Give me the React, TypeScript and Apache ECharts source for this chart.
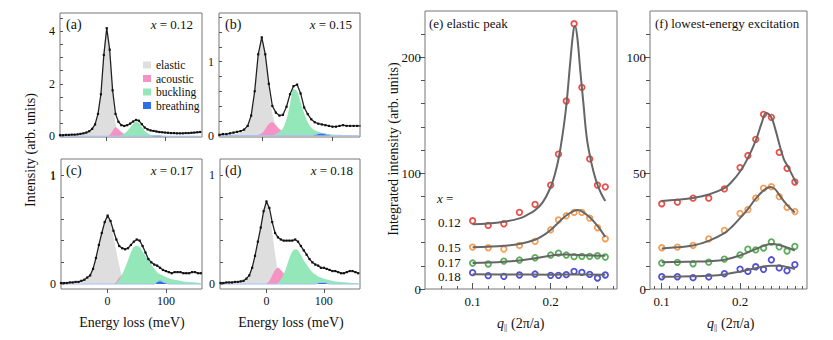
import React, { useEffect, useRef } from "react";
import * as echarts from "echarts";

const FONT = "Liberation Serif";

// ---------- spectra (panels a-d) ----------
const E1 = [-80, -75, -70, -65, -60, -55, -50, -45, -40, -35, -30, -25, -20, -15, -10, -5, 0, 5, 10, 15, 20, 25, 30, 35, 40, 45, 50, 55, 60, 65, 70, 75, 80, 85, 90, 95, 100, 105, 110, 115, 120, 125, 130, 135, 140, 145, 150, 155, 160];
const E2 = [-60, -55, -50, -45, -40, -35, -30, -25, -20, -15, -10, -5, 0, 5, 10, 15, 20, 25, 30, 35, 40, 45, 50, 55, 60, 65, 70, 75, 80, 85, 90, 95, 100, 105, 110, 115, 120, 125, 130, 135, 140];

// (a) x = 0.12
const totalA = [0.04, 0.04, 0.05, 0.05, 0.06, 0.06, 0.07, 0.09, 0.11, 0.14, 0.19, 0.28, 0.45, 0.85, 1.6, 3.1, 4.12, 3.3, 1.75, 0.85, 0.55, 0.42, 0.39, 0.42, 0.48, 0.56, 0.62, 0.59, 0.46, 0.33, 0.26, 0.22, 0.2, 0.18, 0.16, 0.15, 0.14, 0.13, 0.12, 0.12, 0.11, 0.11, 0.11, 0.12, 0.12, 0.13, 0.14, 0.15, 0.16];
const elasticA_E = [-80, -70, -60, -50, -45, -40, -35, -30, -25, -20, -15, -10, -5, 0, 5, 10, 15, 20, 25, 30, 35, 40, 160];
const elasticA = [0.01, 0.015, 0.02, 0.035, 0.05, 0.07, 0.1, 0.15, 0.24, 0.42, 0.82, 1.57, 3.08, 4.1, 3.25, 1.55, 0.5, 0.18, 0.07, 0.03, 0.01, 0, 0];
const acousticA_E = [-5, 0, 5, 10, 15, 20, 25, 30, 35, 40, 45];
const acousticA = [0, 0.005, 0.05, 0.2, 0.34, 0.27, 0.16, 0.08, 0.03, 0.01, 0];
const bucklingA_E = [15, 20, 25, 30, 35, 40, 45, 50, 55, 60, 65, 70, 75, 80, 85, 90, 95, 100, 110];
const bucklingA = [0, 0.01, 0.04, 0.1, 0.2, 0.33, 0.47, 0.55, 0.5, 0.35, 0.2, 0.11, 0.06, 0.035, 0.02, 0.012, 0.008, 0.005, 0];
const breathingA_E = [-80, 75, 80, 85, 90, 95, 100, 105, 163];
const breathingA = [0, 0, 0.015, 0.03, 0.025, 0.01, 0.003, 0, 0];

// (b) x = 0.15
const totalB = [0.01, 0.02, 0.02, 0.03, 0.04, 0.05, 0.06, 0.08, 0.13, 0.27, 0.6, 1.1, 1.33, 1.1, 0.7, 0.4, 0.31, 0.27, 0.28, 0.39, 0.56, 0.67, 0.69, 0.57, 0.38, 0.29, 0.22, 0.18, 0.16, 0.15, 0.14, 0.13, 0.12, 0.12, 0.13, 0.14, 0.13, 0.13, 0.13, 0.13, 0.13];
const elasticB_E = [-60, -50, -40, -35, -30, -25, -20, -15, -10, -5, 0, 5, 10, 15, 20, 25, 30, 35, 40, 140];
const elasticB = [0.005, 0.01, 0.02, 0.03, 0.04, 0.06, 0.11, 0.25, 0.58, 1.08, 1.32, 1.07, 0.63, 0.3, 0.13, 0.05, 0.02, 0.005, 0, 0];
const acousticB_E = [-10, -5, 0, 5, 10, 15, 20, 25, 30, 35, 40, 50, 60, 70];
const acousticB = [0, 0.01, 0.03, 0.09, 0.16, 0.18, 0.14, 0.09, 0.06, 0.04, 0.03, 0.015, 0.008, 0];
const bucklingB_E = [15, 20, 25, 30, 35, 40, 45, 50, 55, 60, 65, 70, 75, 80, 85, 90, 100, 110, 120];
const bucklingB = [0, 0.02, 0.05, 0.1, 0.22, 0.42, 0.63, 0.6, 0.45, 0.3, 0.18, 0.11, 0.07, 0.05, 0.035, 0.025, 0.015, 0.01, 0];
const breathingB_E = [-61, 70, 75, 80, 85, 90, 95, 100, 140];
const breathingB = [0, 0, 0.01, 0.025, 0.03, 0.02, 0.01, 0, 0];

// (c) x = 0.17
const totalC = [0.01, 0.01, 0.01, 0.015, 0.015, 0.02, 0.02, 0.03, 0.04, 0.06, 0.08, 0.14, 0.24, 0.36, 0.47, 0.57, 0.63, 0.58, 0.49, 0.41, 0.35, 0.33, 0.32, 0.33, 0.36, 0.39, 0.41, 0.4, 0.35, 0.29, 0.23, 0.2, 0.18, 0.17, 0.15, 0.13, 0.12, 0.11, 0.1, 0.11, 0.11, 0.11, 0.1, 0.1, 0.1, 0.11, 0.11, 0.1, 0.1];
const elasticC_E = [-80, -60, -50, -45, -40, -35, -30, -25, -20, -15, -10, -5, 0, 5, 10, 15, 20, 25, 30, 35, 160];
const elasticC = [0.005, 0.01, 0.015, 0.02, 0.03, 0.05, 0.07, 0.13, 0.23, 0.35, 0.46, 0.56, 0.62, 0.55, 0.43, 0.3, 0.17, 0.07, 0.02, 0, 0];
const acousticC_E = [10, 15, 20, 25, 30, 35, 40, 45, 50];
const acousticC = [0, 0.02, 0.06, 0.08, 0.07, 0.04, 0.02, 0.01, 0];
const bucklingC_E = [10, 15, 20, 25, 30, 35, 40, 45, 50, 55, 60, 65, 70, 75, 80, 85, 90, 95, 100, 110, 120, 130, 140, 150, 160];
const bucklingC = [0, 0.01, 0.04, 0.09, 0.15, 0.22, 0.29, 0.34, 0.35, 0.34, 0.3, 0.26, 0.22, 0.18, 0.14, 0.11, 0.09, 0.08, 0.065, 0.045, 0.035, 0.025, 0.02, 0.015, 0.01];
const breathingC_E = [-80, 80, 85, 90, 95, 100, 105, 162];
const breathingC = [0, 0, 0.02, 0.03, 0.02, 0.01, 0, 0];

// (d) x = 0.18
const totalD = [0.01, 0.01, 0.015, 0.015, 0.015, 0.02, 0.02, 0.025, 0.03, 0.05, 0.08, 0.15, 0.26, 0.39, 0.52, 0.67, 0.76, 0.7, 0.57, 0.47, 0.43, 0.41, 0.4, 0.4, 0.4, 0.4, 0.41, 0.39, 0.35, 0.31, 0.27, 0.23, 0.2, 0.18, 0.17, 0.15, 0.15, 0.14, 0.13, 0.12, 0.12, 0.11, 0.1, 0.1, 0.11, 0.12, 0.12, 0.11, 0.1];
const elasticD_E = [-80, -70, -60, -50, -45, -40, -35, -30, -25, -20, -15, -10, -5, 0, 5, 10, 15, 20, 25, 30, 35, 160];
const elasticD = [0.005, 0.01, 0.01, 0.015, 0.02, 0.025, 0.04, 0.07, 0.14, 0.25, 0.38, 0.51, 0.66, 0.74, 0.66, 0.48, 0.28, 0.12, 0.04, 0.01, 0, 0];
const acousticD_E = [0, 5, 10, 15, 20, 25, 30, 35, 40, 45, 50, 55];
const acousticD = [0, 0.03, 0.08, 0.13, 0.15, 0.13, 0.1, 0.07, 0.04, 0.02, 0.01, 0];
const bucklingD_E = [15, 20, 25, 30, 35, 40, 45, 50, 55, 60, 65, 70, 75, 80, 85, 90, 95, 100, 110, 120, 130, 140, 150, 160];
const bucklingD = [0, 0.01, 0.04, 0.09, 0.16, 0.24, 0.3, 0.32, 0.31, 0.27, 0.22, 0.18, 0.14, 0.11, 0.09, 0.07, 0.06, 0.05, 0.035, 0.025, 0.02, 0.015, 0.01, 0.01];
const breathingD_E = [-81, 85, 90, 95, 100, 105, 110, 163];
const breathingD = [0, 0, 0.01, 0.015, 0.015, 0.01, 0, 0];

// ---------- integrated intensities (panels e, f) ----------
const qPts = [0.1, 0.12, 0.14, 0.16, 0.18, 0.2, 0.21, 0.22, 0.23, 0.24, 0.25, 0.26, 0.27];

const elastic012 = [58.9, 54.9, 56.3, 66.1, 73, 89.7, 116.4, 162.3, 229, 174, 112.3, 89.7, 88.2];
const elastic015 = [36.2, 35.6, 34.5, 37.6, 41.1, 51.1, 59.7, 63.2, 66.1, 66.1, 61.2, 52.9, 43.4];
const elastic017 = [22.4, 21.6, 24.1, 25, 27, 29.3, 31, 29.3, 27.9, 28.2, 28.2, 28.7, 27.6];
const elastic018 = [14.1, 11.5, 10.9, 12.1, 12.9, 11.8, 11.8, 12.4, 15.2, 14.4, 12.6, 9.5, 12.1];

const fitE012_q = [0.1, 0.12, 0.14, 0.16, 0.17, 0.18, 0.19, 0.2, 0.205, 0.21, 0.215, 0.22, 0.225, 0.229, 0.2312, 0.234, 0.238, 0.242, 0.246, 0.25, 0.255, 0.26, 0.265, 0.27];
const fitE012 = [56, 56.5, 58, 61, 64, 68, 75, 88, 98, 112, 132, 158, 195, 222, 227, 218, 188, 160, 132, 116, 101, 90, 82, 76];
const fitE015_q = [0.1, 0.12, 0.14, 0.16, 0.18, 0.19, 0.2, 0.21, 0.22, 0.23, 0.235, 0.24, 0.25, 0.26, 0.27];
const fitE015 = [36, 36.5, 37.3, 38.8, 42.5, 46, 51, 57.5, 63.5, 67.5, 68.2, 67, 62, 54.5, 45];
const fitE017_q = [0.1, 0.12, 0.14, 0.16, 0.18, 0.2, 0.21, 0.22, 0.23, 0.24, 0.25, 0.26, 0.27];
const fitE017 = [22.4, 22.8, 23.5, 24.7, 26.6, 28.8, 29.6, 29.8, 29.5, 29.2, 29, 28.8, 28.6];
const fitE018_q = [0.1, 0.15, 0.2, 0.23, 0.27];
const fitE018 = [12.8, 12.5, 12.4, 12.6, 12.4];

const lowest012 = [36.8, 37.5, 39.2, 39.2, 43.2, 52.4, 57.6, 64.6, 75.4, 74.1, 59, 52.1, 46.2];
const lowest015 = [17.8, 18.1, 18.8, 21.6, 25.3, 32.6, 34.3, 39.2, 43.5, 44.2, 39.9, 35.2, 33.4];
const lowest017 = [11.2, 11.5, 10.9, 11.6, 12.9, 14.7, 17.2, 16.9, 17.7, 20.3, 18.2, 16.4, 18.4];
const lowest018 = [5.3, 5.3, 4.9, 5.2, 6.6, 8.6, 7.6, 9.6, 8.5, 12.6, 9.1, 7.9, 10.5];

const fitL012_q = [0.1, 0.12, 0.14, 0.16, 0.18, 0.19, 0.2, 0.21, 0.22, 0.228, 0.2333, 0.24, 0.245, 0.251, 0.256, 0.262, 0.272];
const fitL012 = [38, 38.5, 39.3, 40.8, 43.5, 46.5, 50.7, 56.5, 64, 72, 76, 74, 69, 61.5, 56, 52.3, 45.5];
const fitL015_q = [0.1, 0.12, 0.14, 0.16, 0.18, 0.19, 0.2, 0.21, 0.22, 0.23, 0.239, 0.245, 0.25, 0.26, 0.27];
const fitL015 = [17.5, 18, 18.8, 20.8, 24.1, 27, 30.6, 34.5, 39, 42.5, 44, 43, 40.6, 36.3, 33];
const fitL017_q = [0.1, 0.12, 0.14, 0.16, 0.18, 0.2, 0.22, 0.23, 0.24, 0.25, 0.26, 0.27];
const fitL017 = [11.6, 11.7, 11.8, 12, 12.6, 14.5, 17.2, 18.6, 19.4, 19, 17.9, 16.6];
const fitL018_q = [0.1, 0.12, 0.14, 0.16, 0.18, 0.2, 0.22, 0.24, 0.25, 0.26, 0.27];
const fitL018 = [5.3, 5.35, 5.45, 5.7, 6.3, 7.5, 9, 10, 10, 9.5, 8.6];

const compositions = ["0.12", "0.15", "0.17", "0.18"];
const componentNames = ["elastic", "acoustic", "buckling", "breathing"];
const componentColors = ["#dedede", "#f594c4", "#93e7b8", "#2f6fe4"];
const dotColors = ["#e5231d", "#f4862c", "#2f9a2f", "#2424cc"];

const zip = (xs: number[], ys: number[]) => xs.map((x, i) => [x, ys[i]]);

export default function App() {
  const ref = useRef<HTMLDivElement>(null);
  useEffect(() => {
    const chart = echarts.init(ref.current!, null, { renderer: "svg" });

    const panels = [
      { grid: { left: 60, top: 13, width: 142, height: 124 }, xr: [-80, 163], yr: [-0.03, 4.7], yMaj: [0, 2, 4], yMin: [0.5, 1, 1.5, 2.5, 3, 3.5, 4.5], E: E1, total: totalA, comps: [[elasticA_E, elasticA], [acousticA_E, acousticA], [bucklingA_E, bucklingA], [breathingA_E, breathingA]], xlab: false },
      { grid: { left: 219, top: 13, width: 141, height: 124 }, xr: [-60.5, 139], yr: [-0.02, 1.66], yMaj: [0, 1], yMin: [0.2, 0.4, 0.6, 0.8, 1.2, 1.4, 1.6], E: E2, total: totalB, comps: [[elasticB_E, elasticB], [acousticB_E, acousticB], [bucklingB_E, bucklingB], [breathingB_E, breathingB]], xlab: false },
      { grid: { left: 61, top: 159, width: 141, height: 130 }, xr: [-80, 162], yr: [-0.045, 1.15], yMaj: [0, 1], yMin: [0.2, 0.4, 0.6, 0.8], E: E1, total: totalC, comps: [[elasticC_E, elasticC], [acousticC_E, acousticC], [bucklingC_E, bucklingC], [breathingC_E, breathingC]], xlab: true },
      { grid: { left: 220, top: 159, width: 140, height: 130 }, xr: [-81, 163], yr: [-0.045, 1.15], yMaj: [0, 1], yMin: [0.2, 0.4, 0.6, 0.8], E: E1, total: totalD, comps: [[elasticD_E, elasticD], [acousticD_E, acousticD], [bucklingD_E, bucklingD], [breathingD_E, breathingD]], xlab: true },
    ];

    const grids: any[] = [];
    const xAxes: any[] = [];
    const yAxes: any[] = [];
    const series: any[] = [];
    const tickLine = { color: "#555", width: 1 };
    const labelBase = { fontFamily: FONT, color: "#111", showMinLabel: true, showMaxLabel: true, hideOverlap: false };
    const noLine = { show: false, onZero: false };

    panels.forEach((p, i) => {
      grids.push({ ...p.grid, show: true, borderColor: "#777", borderWidth: 1, backgroundColor: "transparent" });
      xAxes.push({
        gridIndex: i, type: "value", position: "bottom", min: p.xr[0], max: p.xr[1],
        axisLine: noLine, splitLine: { show: false },
        axisTick: { show: true, customValues: [0, 100], length: 4, lineStyle: tickLine },
        axisLabel: { show: p.xlab, customValues: [0, 100], fontSize: 12, margin: 6, ...labelBase },
      });
      yAxes.push({
        gridIndex: i, type: "value", position: "left", min: p.yr[0], max: p.yr[1],
        axisLine: noLine, splitLine: { show: false },
        axisTick: { show: true, inside: true, customValues: [...p.yMaj, ...p.yMin], length: 3, lineStyle: tickLine },
        axisLabel: { customValues: p.yMaj, fontSize: 12, margin: 5, ...labelBase },
      });
      p.comps.forEach((c, k) => {
        const col = componentColors[k];
        const isBreath = k === 3;
        series.push({
          type: "line", name: componentNames[k], xAxisIndex: i, yAxisIndex: i,
          data: zip(c[0] as number[], c[1] as number[]), smooth: 0.35, symbol: "none", showSymbol: false,
          color: col, itemStyle: { color: col },
          lineStyle: { width: isBreath ? 1 : 0, color: isBreath ? "#a8c3f4" : col },
          areaStyle: { color: col, opacity: 1 }, silent: true,
        });
      });
      series.push({
        type: "line", name: "data " + compositions[i], xAxisIndex: i, yAxisIndex: i,
        data: zip(p.E, p.total), symbol: "rect", symbolSize: 2.2, showSymbol: true,
        color: "#111", itemStyle: { color: "#111" }, lineStyle: { width: 1.3, color: "#222" }, silent: true,
      });
    });

    const right = [
      { grid: { left: 425, top: 11, width: 192, height: 278 }, xr: [0.039, 0.285], yr: [0, 240], yMaj: [0, 100, 200], yMin: [20, 40, 60, 80, 120, 140, 160, 180, 220], xMin: [0.06, 0.08, 0.12, 0.14, 0.16, 0.18, 0.22, 0.24, 0.26, 0.28], pts: [elastic012, elastic015, elastic017, elastic018], fits: [[fitE012_q, fitE012], [fitE015_q, fitE015], [fitE017_q, fitE017], [fitE018_q, fitE018]] },
      { grid: { left: 650, top: 11, width: 157, height: 278 }, xr: [0.085, 0.2855], yr: [0, 120], yMaj: [0, 50, 100], yMin: [10, 20, 30, 40, 60, 70, 80, 90, 110], xMin: [0.09, 0.11, 0.12, 0.13, 0.14, 0.15, 0.16, 0.17, 0.18, 0.19, 0.21, 0.22, 0.23, 0.24, 0.25, 0.26, 0.27, 0.28], pts: [lowest012, lowest015, lowest017, lowest018], fits: [[fitL012_q, fitL012], [fitL015_q, fitL015], [fitL017_q, fitL017], [fitL018_q, fitL018]] },
    ];

    right.forEach((p, j) => {
      const gi = 4 + j;
      grids.push({ ...p.grid, show: true, borderColor: "#777", borderWidth: 1, backgroundColor: "transparent" });
      const xMain = xAxes.length;
      xAxes.push({
        gridIndex: gi, type: "value", position: "bottom", min: p.xr[0], max: p.xr[1],
        axisLine: noLine, splitLine: { show: false },
        axisTick: { show: true, inside: true, customValues: [0.1, 0.2], length: 6, lineStyle: tickLine },
        axisLabel: { customValues: [0.1, 0.2], fontSize: 13, margin: 6, ...labelBase },
      });
      xAxes.push({
        gridIndex: gi, type: "value", position: "bottom", offset: 0, min: p.xr[0], max: p.xr[1],
        axisLine: noLine, splitLine: { show: false },
        axisTick: { show: true, inside: true, customValues: p.xMin, length: 3, lineStyle: tickLine },
        axisLabel: { show: false },
      });
      const yMain = yAxes.length;
      yAxes.push({
        gridIndex: gi, type: "value", position: "left", min: p.yr[0], max: p.yr[1],
        axisLine: noLine, splitLine: { show: false },
        axisTick: { show: true, customValues: p.yMaj, length: 6, lineStyle: tickLine },
        axisLabel: { customValues: p.yMaj, fontSize: 13, margin: 4, ...labelBase },
      });
      yAxes.push({
        gridIndex: gi, type: "value", position: "left", offset: 0, min: p.yr[0], max: p.yr[1],
        axisLine: noLine, splitLine: { show: false },
        axisTick: { show: true, customValues: p.yMin, length: 4, lineStyle: tickLine },
        axisLabel: { show: false },
      });
      p.fits.forEach((f, k) => {
        series.push({
          type: "line", name: "fit " + compositions[k], xAxisIndex: xMain, yAxisIndex: yMain,
          data: zip(f[0], f[1]), smooth: 0.4, symbol: "none", showSymbol: false,
          lineStyle: { color: "#666", width: 2 }, silent: true,
        });
      });
      p.pts.forEach((v, k) => {
        series.push({
          type: "scatter", name: "x = " + compositions[k], xAxisIndex: xMain, yAxisIndex: yMain,
          data: zip(qPts, v), symbol: "circle", symbolSize: 5.5,
          itemStyle: { color: "#fff", borderColor: dotColors[k], borderWidth: 1.8 }, silent: true,
        });
      });
    });

    const T = (x: number, y: number, text: string, extra: any = {}) => ({
      type: "text", x, y, silent: true, rotation: extra.rotation || 0,
      style: {
        text, fill: "#111", fontFamily: FONT, fontSize: extra.size || 13,
        fontStyle: extra.italic ? "italic" : "normal",
        textAlign: extra.align || "left", textVerticalAlign: "middle",
        rich: { i: { fontStyle: "italic", fontFamily: FONT, fontSize: extra.size || 13, fill: "#111" } },
      },
    });

    const graphics = [
      T(66, 24, "(a)", { size: 14 }),
      T(193, 24, "{i|x} = " + compositions[0], { align: "right" }),
      T(225, 24, "(b)", { size: 14 }),
      T(352, 24, "{i|x} = " + compositions[1], { align: "right" }),
      T(66, 170, "(c)", { size: 14 }),
      T(193, 170, "{i|x} = " + compositions[2], { align: "right" }),
      T(225, 170, "(d)", { size: 14 }),
      T(353, 170, "{i|x} = " + compositions[3], { align: "right" }),
      // fallback for the (c) "1" tick label, which the axis does not render here
      T(56, 175.5, "1", { size: 12, align: "right" }),
      T(429, 23, "(e) elastic peak"),
      T(655, 23, "(f) lowest-energy excitation"),
      T(30, 150, "Intensity (arb. units)", { size: 14, align: "center", rotation: Math.PI / 2 }),
      T(393, 149, "Integrated intensity (arb. units)", { size: 14, align: "center", rotation: Math.PI / 2 }),
      T(132, 322, "Energy loss (meV)", { size: 14, align: "center" }),
      T(291, 322, "Energy loss (meV)", { size: 14, align: "center" }),
      T(437, 198, "{i|x} ="),
      T(438, 222, compositions[0]),
      T(438, 247, compositions[1]),
      T(438, 262, compositions[2]),
      T(438, 276, compositions[3]),
      T(497, 323, "q", { size: 14, italic: true }),
      T(504, 327, "||", { size: 8 }),
      T(511, 323, "(2π/a)", { size: 14 }),
      T(707, 323, "q", { size: 14, italic: true }),
      T(714, 327, "||", { size: 8 }),
      T(721, 323, "(2π/a)", { size: 14 }),
    ];

    chart.setOption({
      animation: false,
      backgroundColor: "#fff",
      textStyle: { fontFamily: FONT },
      grid: grids,
      xAxis: xAxes,
      yAxis: yAxes,
      legend: {
        data: componentNames, orient: "vertical", left: 138, top: 54,
        icon: "rect", itemWidth: 8, itemHeight: 7, itemGap: 1.5, selectedMode: false,
        itemStyle: { borderWidth: 0 },
        textStyle: { fontFamily: FONT, fontSize: 11.5, color: "#111", lineHeight: 11, padding: [0, 0, 0, 0] },
      },
      series,
      graphic: graphics,
    });
    return () => chart.dispose();
  }, []);
  return <div ref={ref} style={{ position: "absolute", left: 0, top: 0, width: 833, height: 340 }} />;
}
